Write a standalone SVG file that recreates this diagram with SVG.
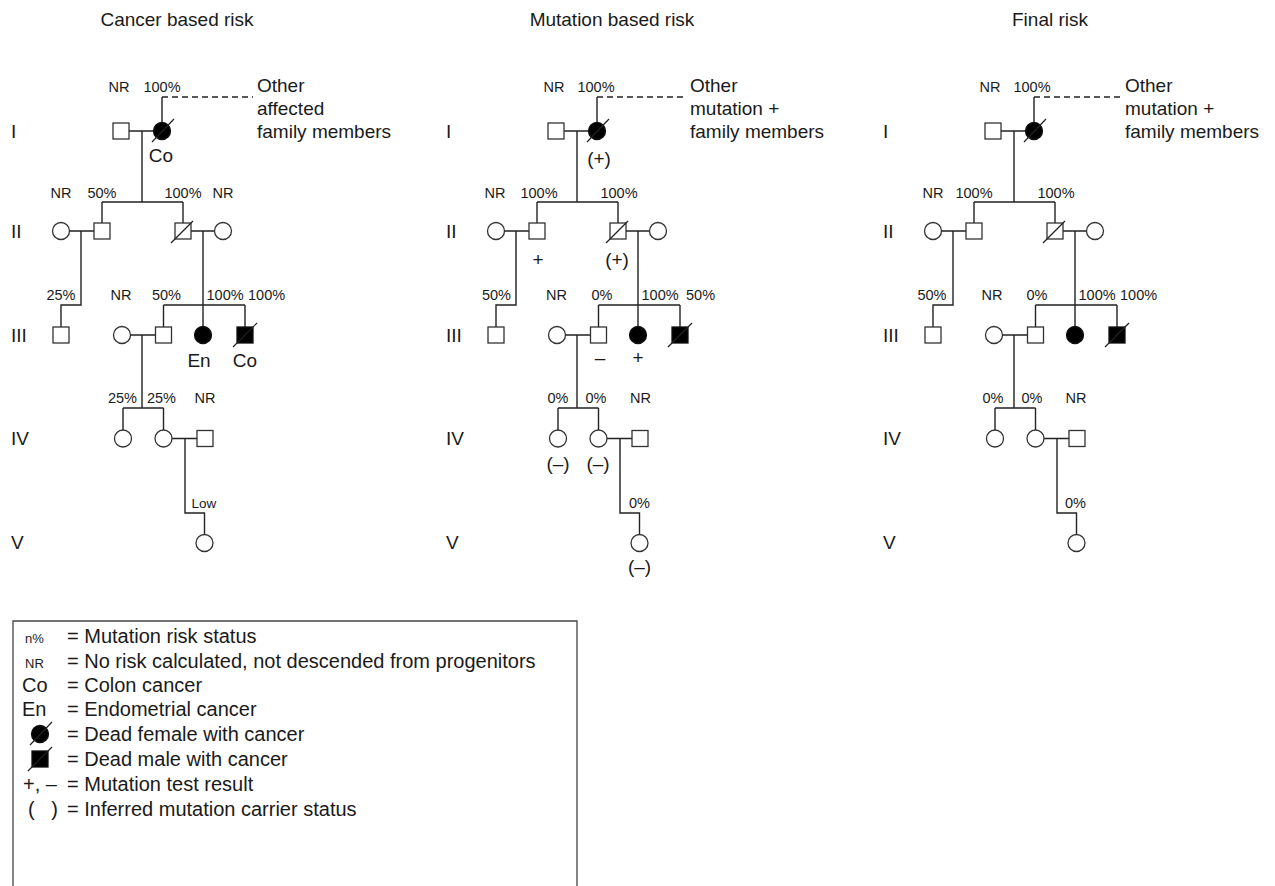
<svg xmlns="http://www.w3.org/2000/svg" width="1275" height="886" viewBox="0 0 1275 886">
<style>
text { font-family: "Liberation Sans", Arial, sans-serif; fill: #1a1a1a; }
.t { font-size: 19px; text-anchor: middle; }
.big { font-size: 19px; }
.bigc { font-size: 19px; text-anchor: middle; }
.sm { font-size: 14.5px; text-anchor: middle; }
.sml { font-size: 14.5px; }
.low { font-size: 13.5px; }
.gen { font-size: 19px; }
.leg { font-size: 20px; white-space: pre; }
.legs { font-size: 13px; }
.ln { stroke: #222; stroke-width: 1.4; fill: none; }
.dash { stroke: #222; stroke-width: 1.4; fill: none; stroke-dasharray: 6 4; }
.sym { stroke: #333; stroke-width: 1.3; fill: #fff; }
.aff { stroke: #111; stroke-width: 1.3; fill: #000; }
.sl { stroke: #222; stroke-width: 1.2; }
.box { stroke: #444; stroke-width: 1.3; fill: none; }
</style>
<defs>
  <g id="deadF"><circle cx="0" cy="0" r="8.5" class="aff"/><line x1="-10" y1="11" x2="12" y2="-12" class="sl"/></g>
  <g id="deadM"><rect x="-8" y="-8" width="16" height="16" class="aff"/><line x1="-12" y1="12" x2="12" y2="-12" class="sl"/></g>
  <g id="deadSq"><rect x="-8" y="-8" width="16" height="16" class="sym"/><line x1="-12" y1="12" x2="10" y2="-10" class="sl"/></g>
  <rect id="sq" x="-8" y="-8" width="16" height="16" class="sym"/>
  <circle id="ci" cx="0" cy="0" r="8.5" class="sym"/>
  <circle id="fci" cx="0" cy="0" r="8.5" class="aff"/>
</defs>

<!-- ===================== PANEL 1 ===================== -->
<g id="panel1">
  <text class="t" x="177" y="26">Cancer based risk</text>
  <g id="p1-gen">
    <text class="gen" x="11" y="138">I</text>
    <text class="gen" x="11" y="238">II</text>
    <text class="gen" x="11" y="342">III</text>
    <text class="gen" x="11" y="445">IV</text>
    <text class="gen" x="11" y="549">V</text>
  </g>
  <g id="p1-connectors">
    <path class="ln" d="M129,131 H153.5 M142,131 V202 M102,202 H183 M102,202 V223 M183,202 V223 M162,122.5 V97"/>
    <path class="dash" d="M162,97 H253"/>
    <path class="ln" d="M69.5,231 H94 M81,231 V305 H61 V327 M191,231 H214.5 M203,231 V326.5"/>
    <path class="ln" d="M163.5,305 H245 M163.5,305 V327 M245,305 V327 M130.5,335 H155.5 M142,335 V408"/>
    <path class="ln" d="M123,408 H163.5 M123,408 V430 M163.5,408 V430 M172,438.5 H197 M185,438.5 V513 H204.5 V534.5"/>
  </g>
  <g id="p1-I1"><use href="#sq" x="121" y="131"/><text class="sm" x="119" y="92">NR</text></g>
  <g id="p1-I2"><use href="#deadF" x="162" y="131"/><text class="sm" x="162" y="92">100%</text><text class="bigc" x="161" y="162">Co</text></g>
  <g id="p1-other"><text class="big" x="257" y="92">Other</text><text class="big" x="257" y="115">affected</text><text class="big" x="257" y="138">family members</text></g>
  <g id="p1-II1"><use href="#ci" x="61" y="231"/><text class="sm" x="61" y="198">NR</text></g>
  <g id="p1-II2"><use href="#sq" x="102" y="231"/><text class="sm" x="102" y="198">50%</text></g>
  <g id="p1-II3"><use href="#deadSq" x="183" y="231"/><text class="sm" x="183" y="198">100%</text></g>
  <g id="p1-II4"><use href="#ci" x="223" y="231"/><text class="sm" x="223" y="198">NR</text></g>
  <g id="p1-III1"><use href="#sq" x="61" y="335"/><text class="sm" x="61" y="300">25%</text></g>
  <g id="p1-III2"><use href="#ci" x="122" y="335"/><text class="sm" x="121" y="300">NR</text></g>
  <g id="p1-III3"><use href="#sq" x="163.5" y="335"/><text class="sm" x="166.5" y="300">50%</text></g>
  <g id="p1-III4"><use href="#fci" x="203" y="335"/><text class="sml" x="206.5" y="300">100%</text><text class="bigc" x="199" y="367">En</text></g>
  <g id="p1-III5"><use href="#deadM" x="245" y="335"/><text class="sml" x="248" y="300">100%</text><text class="bigc" x="245" y="367">Co</text></g>
  <g id="p1-IV1"><use href="#ci" x="123" y="438.5"/><text class="sm" x="122.5" y="403">25%</text></g>
  <g id="p1-IV2"><use href="#ci" x="163.5" y="438.5"/><text class="sm" x="161.5" y="403">25%</text></g>
  <g id="p1-IV3"><use href="#sq" x="205" y="438.5"/><text class="sm" x="205" y="403">NR</text></g>
  <g id="p1-V1"><use href="#ci" x="204.5" y="543"/><text class="low" x="191.5" y="508">Low</text></g>
</g>

<!-- ===================== PANEL 2 ===================== -->
<g id="panel2" transform="translate(435,0)">
  <text class="t" x="177" y="26">Mutation based risk</text>
  <g id="p2-gen">
    <text class="gen" x="11" y="138">I</text>
    <text class="gen" x="11" y="238">II</text>
    <text class="gen" x="11" y="342">III</text>
    <text class="gen" x="11" y="445">IV</text>
    <text class="gen" x="11" y="549">V</text>
  </g>
  <g id="p2-connectors">
    <path class="ln" d="M129,131 H153.5 M142,131 V202 M102,202 H183 M102,202 V223 M183,202 V223 M162,122.5 V97"/>
    <path class="dash" d="M162,97 H252"/>
    <path class="ln" d="M69.5,231 H94 M81,231 V305 H61 V327 M191,231 H214.5 M203,231 V326.5"/>
    <path class="ln" d="M163.5,305 H245 M163.5,305 V327 M245,305 V327 M130.5,335 H155.5 M142,335 V408"/>
    <path class="ln" d="M123,408 H163.5 M123,408 V430 M163.5,408 V430 M172,438.5 H197 M185,438.5 V513 H204.5 V534.5"/>
  </g>
  <g id="p2-I1"><use href="#sq" x="121" y="131"/><text class="sm" x="119" y="92">NR</text></g>
  <g id="p2-I2"><use href="#deadF" x="162" y="131"/><text class="sm" x="161" y="92">100%</text><text class="bigc" x="164" y="165">(+)</text></g>
  <g id="p2-other"><text class="big" x="255" y="92">Other</text><text class="big" x="255" y="115">mutation +</text><text class="big" x="255" y="138">family members</text></g>
  <g id="p2-II1"><use href="#ci" x="61" y="231"/><text class="sm" x="60" y="198">NR</text></g>
  <g id="p2-II2"><use href="#sq" x="102" y="231"/><text class="sm" x="104" y="198">100%</text><text class="bigc" x="103" y="266">+</text></g>
  <g id="p2-II3"><use href="#deadSq" x="183" y="231"/><text class="sm" x="184" y="198">100%</text><text class="bigc" x="182" y="266">(+)</text></g>
  <g id="p2-II4"><use href="#ci" x="223" y="231"/></g>
  <g id="p2-III1"><use href="#sq" x="61" y="335"/><text class="sm" x="61.5" y="300">50%</text></g>
  <g id="p2-III2"><use href="#ci" x="122" y="335"/><text class="sm" x="121.5" y="300">NR</text></g>
  <g id="p2-III3"><use href="#sq" x="163.5" y="335"/><text class="sm" x="167" y="300">0%</text><text class="bigc" x="165" y="364">–</text></g>
  <g id="p2-III4"><use href="#fci" x="203" y="335"/><text class="sml" x="206.5" y="300">100%</text><text class="bigc" x="203" y="364">+</text></g>
  <g id="p2-III5"><use href="#deadM" x="245" y="335"/><text class="sml" x="251" y="300">50%</text></g>
  <g id="p2-IV1"><use href="#ci" x="123" y="438.5"/><text class="sm" x="123" y="403">0%</text><text class="bigc" x="123" y="470">(–)</text></g>
  <g id="p2-IV2"><use href="#ci" x="163.5" y="438.5"/><text class="sm" x="161" y="403">0%</text><text class="bigc" x="163" y="470">(–)</text></g>
  <g id="p2-IV3"><use href="#sq" x="205" y="438.5"/><text class="sm" x="205.5" y="403">NR</text></g>
  <g id="p2-V1"><use href="#ci" x="204.5" y="543"/><text class="sm" x="204.5" y="508">0%</text><text class="bigc" x="204.5" y="573">(–)</text></g>
</g>

<!-- ===================== PANEL 3 ===================== -->
<g id="panel3" transform="translate(872,0)">
  <text class="t" x="178" y="26">Final risk</text>
  <g id="p3-gen">
    <text class="gen" x="11" y="138">I</text>
    <text class="gen" x="11" y="238">II</text>
    <text class="gen" x="11" y="342">III</text>
    <text class="gen" x="11" y="445">IV</text>
    <text class="gen" x="11" y="549">V</text>
  </g>
  <g id="p3-connectors">
    <path class="ln" d="M129,131 H153.5 M142,131 V202 M102,202 H183 M102,202 V223 M183,202 V223 M162,122.5 V97"/>
    <path class="dash" d="M162,97 H250"/>
    <path class="ln" d="M69.5,231 H94 M81,231 V305 H61 V327 M191,231 H214.5 M203,231 V326.5"/>
    <path class="ln" d="M163.5,305 H245 M163.5,305 V327 M245,305 V327 M130.5,335 H155.5 M142,335 V408"/>
    <path class="ln" d="M123,408 H163.5 M123,408 V430 M163.5,408 V430 M172,438.5 H197 M185,438.5 V513 H204.5 V534.5"/>
  </g>
  <g id="p3-I1"><use href="#sq" x="121" y="131"/><text class="sm" x="118" y="92">NR</text></g>
  <g id="p3-I2"><use href="#deadF" x="162" y="131"/><text class="sm" x="160" y="92">100%</text></g>
  <g id="p3-other"><text class="big" x="253" y="92">Other</text><text class="big" x="253" y="115">mutation +</text><text class="big" x="253" y="138">family members</text></g>
  <g id="p3-II1"><use href="#ci" x="61" y="231"/><text class="sm" x="61" y="198">NR</text></g>
  <g id="p3-II2"><use href="#sq" x="102" y="231"/><text class="sm" x="102" y="198">100%</text></g>
  <g id="p3-II3"><use href="#deadSq" x="183" y="231"/><text class="sm" x="184" y="198">100%</text></g>
  <g id="p3-II4"><use href="#ci" x="223" y="231"/></g>
  <g id="p3-III1"><use href="#sq" x="61" y="335"/><text class="sm" x="60" y="300">50%</text></g>
  <g id="p3-III2"><use href="#ci" x="122" y="335"/><text class="sm" x="120" y="300">NR</text></g>
  <g id="p3-III3"><use href="#sq" x="163.5" y="335"/><text class="sm" x="165" y="300">0%</text></g>
  <g id="p3-III4"><use href="#fci" x="203" y="335"/><text class="sml" x="206.5" y="300">100%</text></g>
  <g id="p3-III5"><use href="#deadM" x="245" y="335"/><text class="sml" x="248" y="300">100%</text></g>
  <g id="p3-IV1"><use href="#ci" x="123" y="438.5"/><text class="sm" x="121" y="403">0%</text></g>
  <g id="p3-IV2"><use href="#ci" x="163.5" y="438.5"/><text class="sm" x="160" y="403">0%</text></g>
  <g id="p3-IV3"><use href="#sq" x="205" y="438.5"/><text class="sm" x="204" y="403">NR</text></g>
  <g id="p3-V1"><use href="#ci" x="204.5" y="543"/><text class="sm" x="203.5" y="508">0%</text></g>
</g>

<!-- ===================== LEGEND ===================== -->
<g id="legend">
  <path class="box" d="M13,886 V621 H577 V886"/>
  <text class="legs" x="25" y="643">n%</text><text class="leg" x="67" y="643">= Mutation risk status</text>
  <text class="legs" x="25" y="668">NR</text><text class="leg" x="67" y="668">= No risk calculated, not descended from progenitors</text>
  <text class="leg" x="22" y="692">Co</text><text class="leg" x="67" y="692">= Colon cancer</text>
  <text class="leg" x="22" y="716">En</text><text class="leg" x="67" y="716">= Endometrial cancer</text>
  <use href="#deadF" x="40" y="734"/><text class="leg" x="67" y="741">= Dead female with cancer</text>
  <use href="#deadM" x="40" y="759"/><text class="leg" x="67" y="766">= Dead male with cancer</text>
  <text class="leg" x="23" y="791">+, –</text><text class="leg" x="67" y="791">= Mutation test result</text>
  <text class="leg" x="28" y="816">(   )</text><text class="leg" x="67" y="816">= Inferred mutation carrier status</text>
</g>
</svg>
